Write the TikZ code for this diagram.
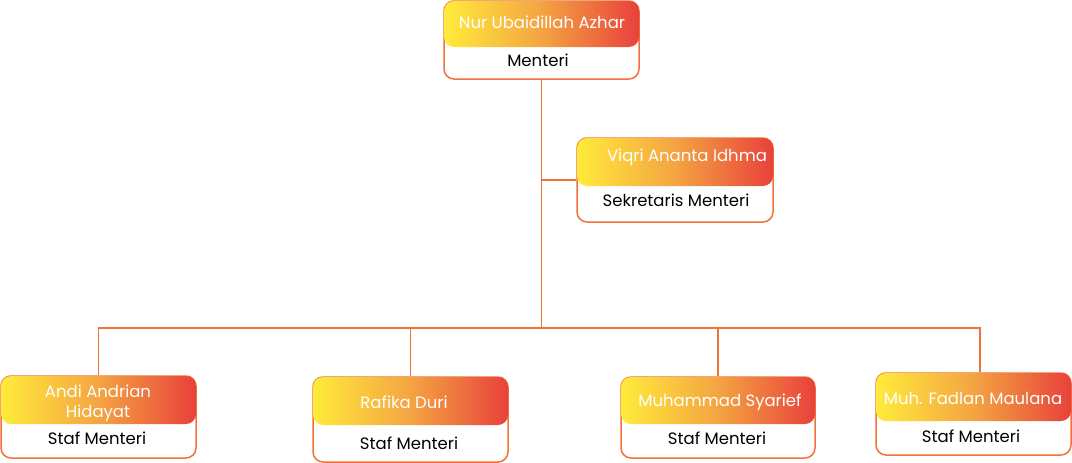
\documentclass[tikz,border=0pt]{standalone}
\usepackage{fontspec}
\setmainfont{Poppins}
\definecolor{ln}{HTML}{F07236}
\definecolor{gy}{HTML}{FFEB3B}
\definecolor{go}{HTML}{F4A442}
\definecolor{gr}{HTML}{E8413B}
\pgfdeclarehorizontalshading{hdr}{100bp}{color(0bp)=(gy); color(25bp)=(gy); color(50bp)=(go); color(75bp)=(gr); color(100bp)=(gr)}
\tikzset{
  outer/.style={draw=ln, line width=1.5pt, fill=white, rounded corners=10pt, inner sep=0pt},
  hdr/.style={shading=hdr, rounded corners=10pt, inner sep=0pt},
  nm/.style={text=white, font=\fontsize{16.5}{20}\selectfont, align=center, inner sep=0pt},
  role/.style={text=black, font=\fontsize{16.5}{19}\selectfont, inner sep=0pt},
  conn/.style={draw=ln, line width=1.8pt}
}
\begin{document}
\begin{tikzpicture}[x=1pt,y=-1pt]
\useasboundingbox (0,0) rectangle (1072,463);
% top
\node[outer, minimum width=195pt, minimum height=78pt] (top) at (541.5,40) {};
\node[hdr, minimum width=195pt, minimum height=46pt] (toph) at (541.5,24) {};
\node[nm] (topn) at (542,22) {Nur Ubaidillah Azhar};
\node[role] (topr) at (538,60) {Menteri};
% viqri
\node[outer, minimum width=196pt, minimum height=84pt] (viq) at (675,180) {};
\node[hdr, minimum width=196pt, minimum height=48pt] (viqh) at (675,162) {};
\node[nm] (viqn) at (687,157) {Viqri Ananta Idhma};
\node[role] (viqr) at (676,200) {Sekretaris Menteri};
% andi
\node[outer, minimum width=195pt, minimum height=82pt] (andi) at (98.5,417) {};
\node[hdr, minimum width=195pt, minimum height=48pt] (andih) at (98.5,400) {};
\node[nm] (andin) at (98,403) {Andi Andrian\\Hidayat};
\node[role] (andir) at (97,438) {Staf Menteri};
% rafika
\node[outer, minimum width=195pt, minimum height=85pt] (raf) at (410.5,419.5) {};
\node[hdr, minimum width=195pt, minimum height=48pt] (rafh) at (410.5,401) {};
\node[nm] (rafn) at (404,402) {Rafika Duri};
\node[role] (rafr) at (409,443) {Staf Menteri};
% muhammad
\node[outer, minimum width=194pt, minimum height=81pt] (muh) at (718,417.5) {};
\node[hdr, minimum width=194pt, minimum height=47pt] (muhh) at (718,400.5) {};
\node[nm] (muhn) at (720,402) {Muhammad Syarief};
\node[role] (muhr) at (717,438) {Staf Menteri};
% fadlan
\node[outer, minimum width=195pt, minimum height=82pt] (fad) at (973.5,414) {};
\node[hdr, minimum width=195pt, minimum height=48pt] (fadh) at (973.5,397) {};
\node[nm] (fadn) at (973,398) {Muh. Fadlan Maulana};
\node[role] (fadr) at (971,436) {Staf Menteri};
% connectors
\coordinate (j) at (541.5,328);
\coordinate (v) at (541.5,180);
\coordinate (fj) at ([xshift=6.5pt]fad.north);
\draw[conn] (top.south) -- (j);
\draw[conn] (v) -- (viq.west);
\draw[conn] (andi.north) |- (j) -| (fj);
\draw[conn] (raf.north) -- (raf.north |- j);
\draw[conn] (muh.north) -- (muh.north |- j);
\end{tikzpicture}
\end{document}
